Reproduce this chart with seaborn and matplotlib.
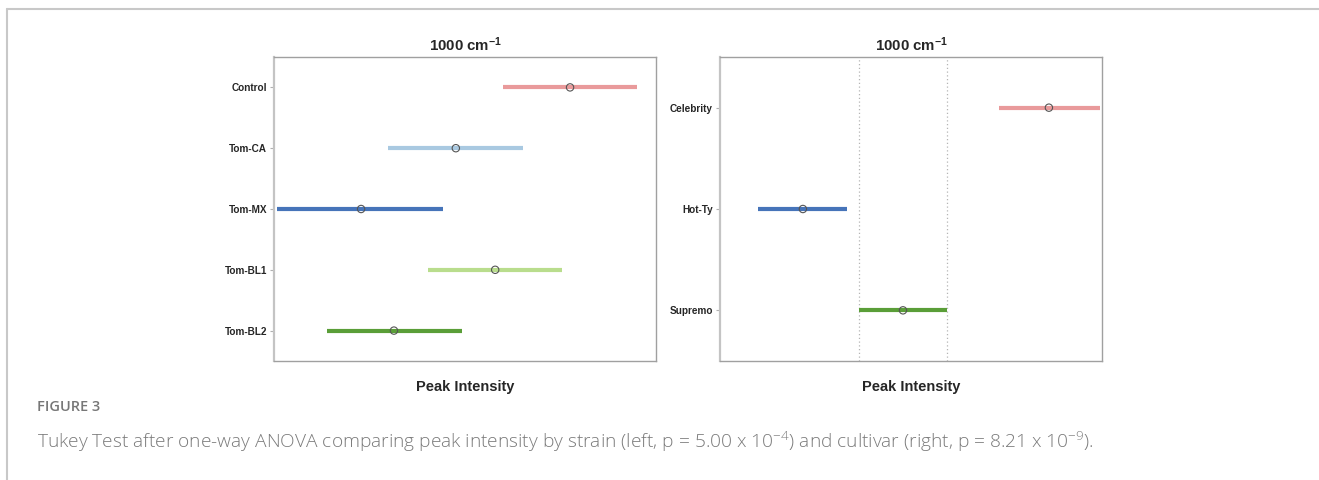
import numpy as np
import pandas as pd
import seaborn as sns
import matplotlib.pyplot as plt
from matplotlib.lines import Line2D

# strain comparison (left), arbitrary intensity units
strains = ['Control', 'Tom-CA', 'Tom-MX', 'Tom-BL1', 'Tom-BL2']
strain_mean = [77.5, 47.6, 22.8, 57.9, 31.4]
strain_lo = [59.9, 29.8, 0.9, 40.3, 13.9]
strain_hi = [95.0, 65.2, 44.2, 75.4, 49.2]

# cultivar comparison (right)
cultivars = ['Celebrity', 'Hot-Ty', 'Supremo']
cult_mean = [86.1, 21.7, 47.9]
cult_lo = [73.0, 9.9, 36.4]
cult_hi = [99.5, 33.2, 59.4]

strain_cols = ['#e99a9b', '#a9c9e1', '#4674b9', '#b9dd8d', '#5a9e38']
cult_cols = ['#e99a9b', '#4674b9', '#5a9e38']

sns.set_style('white')
plt.rcParams['font.family'] = ['Liberation Sans', 'DejaVu Sans']
plt.rcParams['mathtext.default'] = 'regular'

fig = plt.figure(figsize=(13.19, 4.8), dpi=100)


def tukey_panel(rect, groups, mean, lo, hi, cols, ref=None):
    ax = fig.add_axes(rect)
    df = pd.DataFrame({'group': groups, 'mean': mean, 'lo': lo, 'hi': hi})
    df['pos'] = np.arange(len(df))
    if ref is not None:
        r = df[df.group == ref].iloc[0]
        for v in (r.lo, r.hi):
            ax.axvline(v, color='#b5b5b5', lw=0.9, ls=(0, (1, 2)), zorder=1)
    ax.hlines(df['pos'], df['lo'], df['hi'], colors=cols, lw=3, zorder=2)
    sns.scatterplot(data=df, x='mean', y='pos', ax=ax, marker='o', s=28,
                    facecolors='none', edgecolors='#555555', linewidths=0.8,
                    zorder=3, legend=False)
    ax.set_xlim(0, 100)
    ax.set_ylim(len(df) - 0.5, -0.5)
    ax.set_yticks(df['pos'])
    ax.set_yticklabels(df['group'], fontsize=7.2, fontweight='bold')
    ax.set_xticks([])
    ax.tick_params(axis='y', length=3, width=0.8, color='#b0b0b0', pad=2, left=True)
    ax.set_ylabel('')
    ax.set_xlabel('Peak Intensity', fontsize=10.5, fontweight='bold', labelpad=14)
    ax.set_title('1000 cm$^{-1}$', fontsize=10.8, fontweight='bold', pad=4)
    for s in ax.spines.values():
        s.set_color('#a0a0a0')
        s.set_linewidth(1.0)
    ax.spines['left'].set_color('#c4c4c4')
    ax.spines['left'].set_linewidth(1.6)
    return ax


tukey_panel([274 / 1319, 1 - 361 / 480, 382 / 1319, 304 / 480],
            strains, strain_mean, strain_lo, strain_hi, strain_cols)
tukey_panel([720 / 1319, 1 - 361 / 480, 382 / 1319, 304 / 480],
            cultivars, cult_mean, cult_lo, cult_hi, cult_cols, ref='Supremo')

# page frame
fig.add_artist(Line2D([7 / 1319, 1], [1 - 9 / 480, 1 - 9 / 480], color='#c8c8c8', lw=1.5))
fig.add_artist(Line2D([7 / 1319, 7 / 1319], [0, 1 - 9 / 480], color='#c8c8c8', lw=1.5))

fig.text(37 / 1319, 1 - 407 / 480, 'FIGURE 3', fontsize=10.5, color='#777777',
         family=['Open Sans', 'DejaVu Sans'], fontweight='semibold', va='center')
fig.text(37 / 1319, 1 - 442 / 480,
         'Tukey Test after one-way ANOVA comparing peak intensity by strain '
         '(left, p = 5.00 x 10$^{-4}$) and cultivar (right, p = 8.21 x 10$^{-9}$).',
         fontsize=13.8, color='#7a7a7a', family=['Open Sans', 'DejaVu Sans'],
         fontweight='light', va='center')

fig.savefig('out.png', dpi=100)
